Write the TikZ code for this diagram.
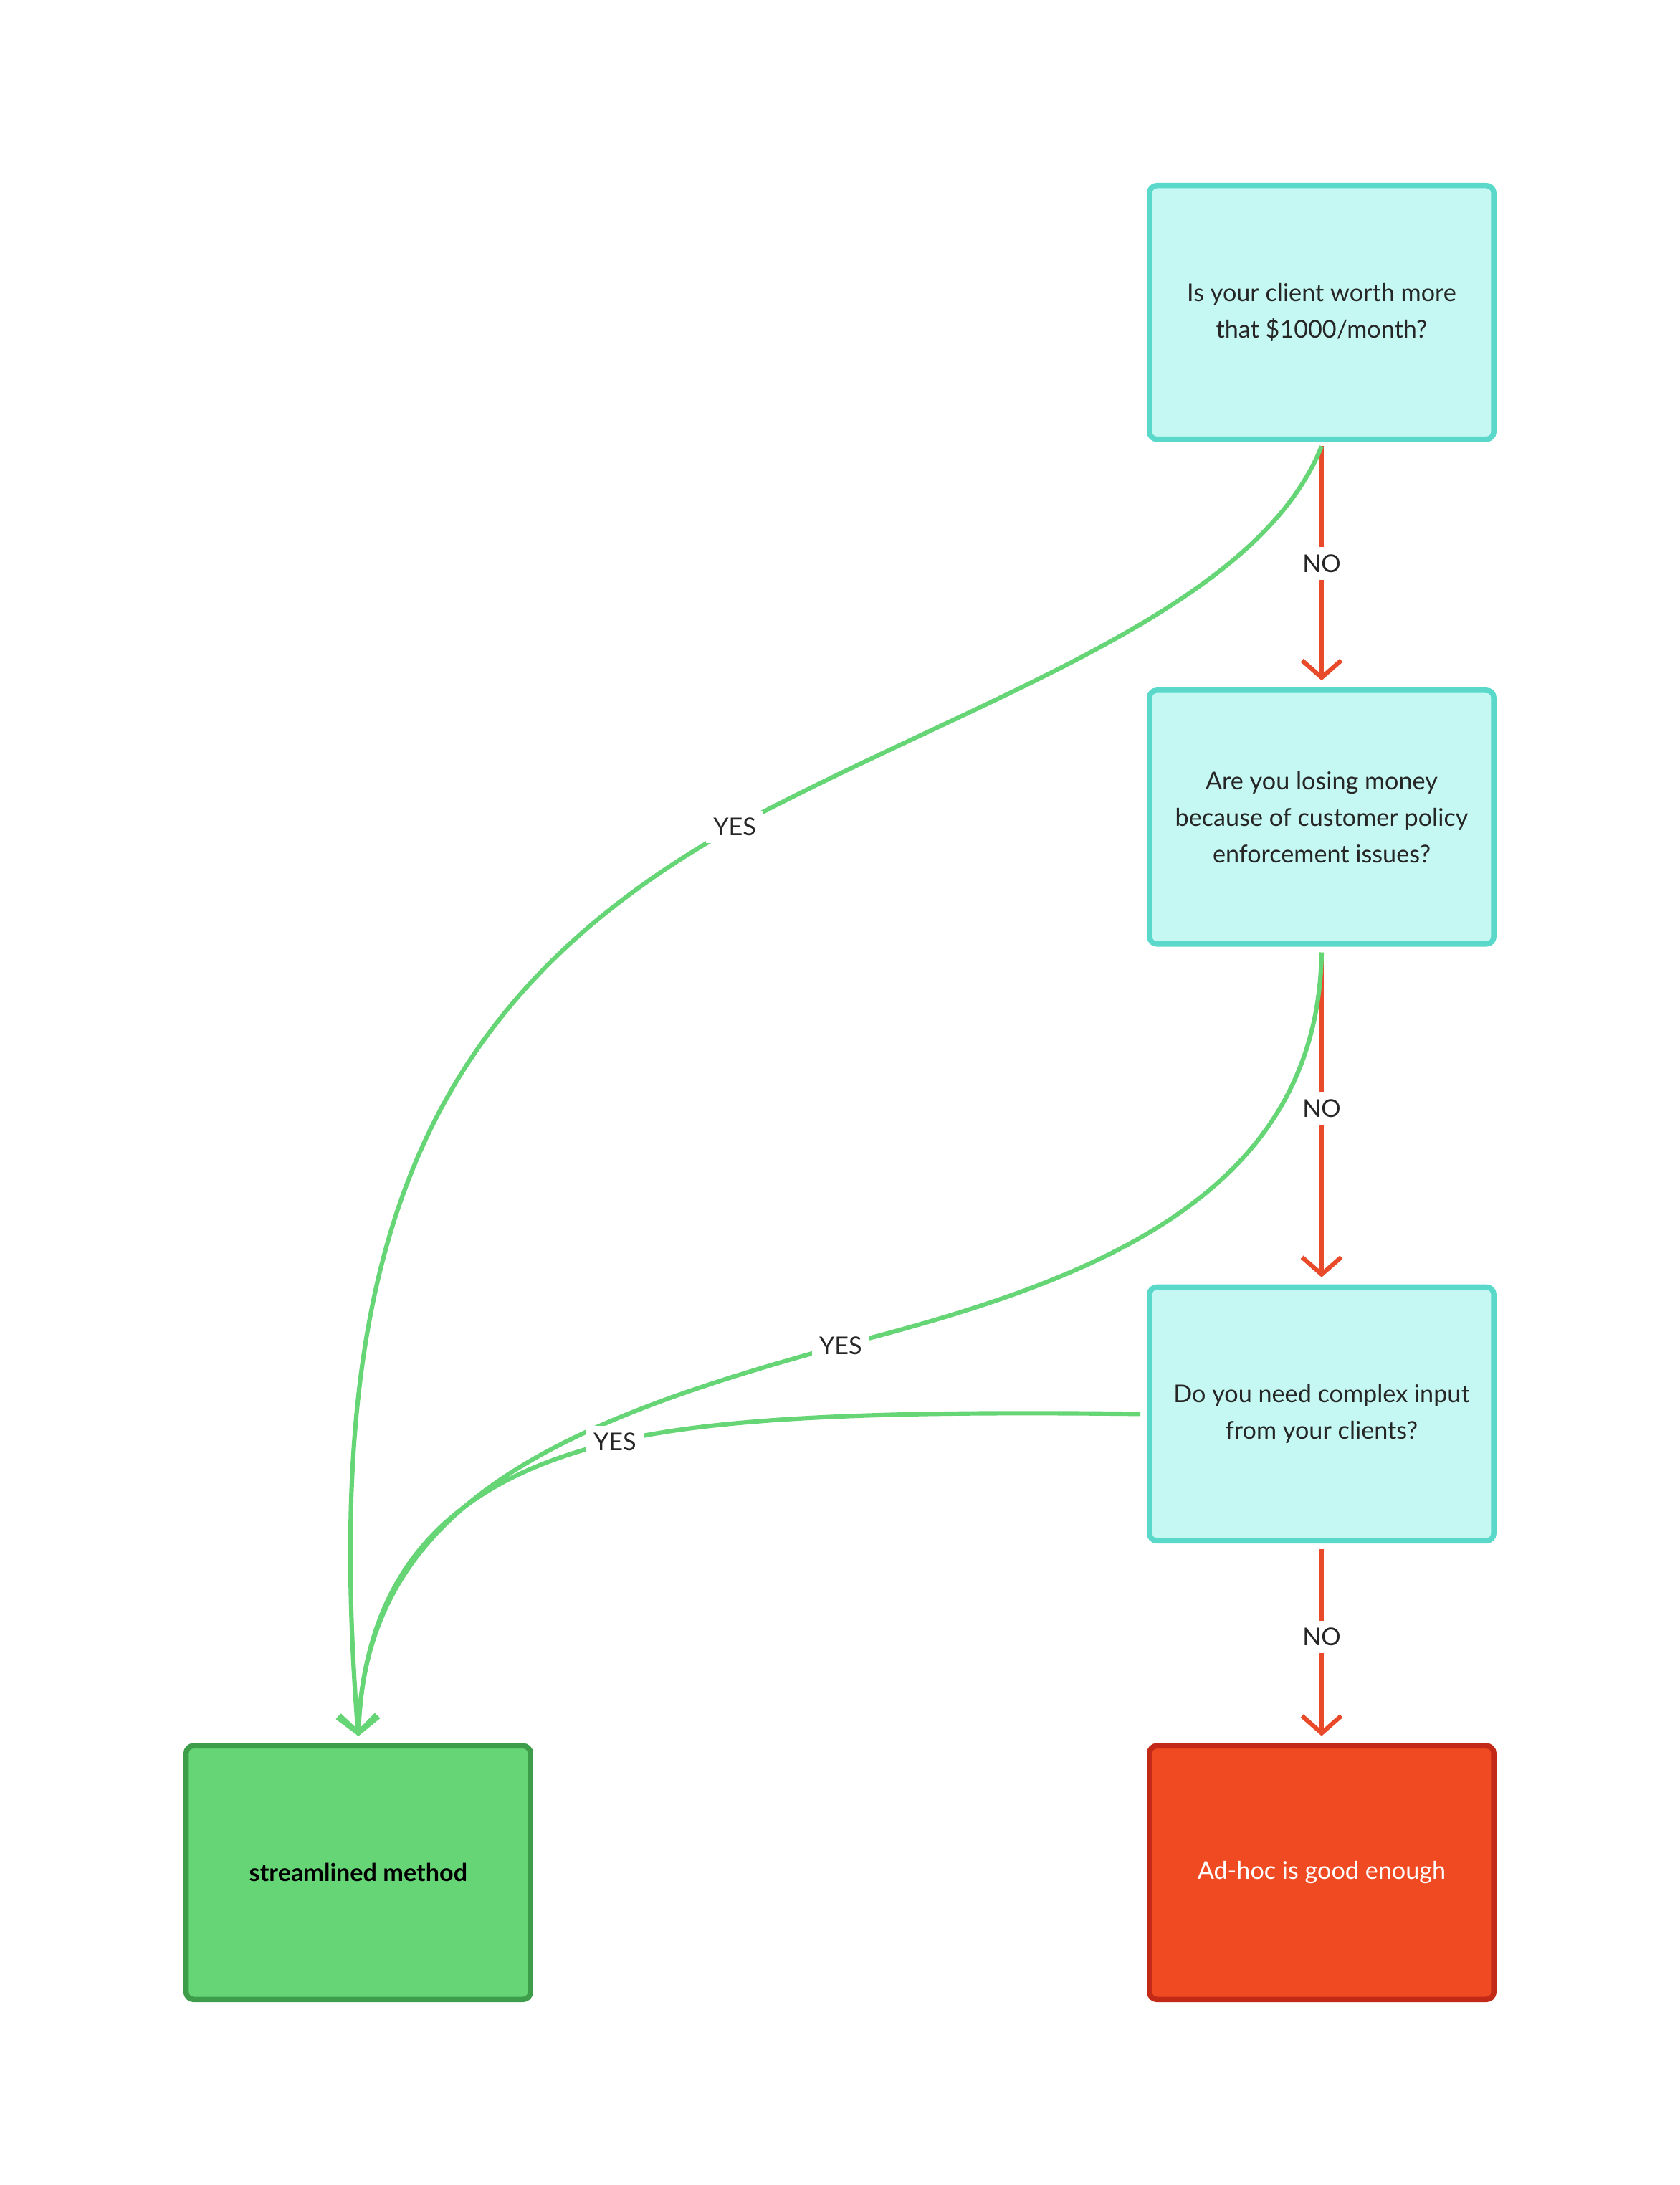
\documentclass[tikz,border=0pt]{standalone}
\usepackage{fontspec}
\setmainfont{Lato}
\usetikzlibrary{arrows.meta}
\definecolor{qfill}{HTML}{C5F8F2}
\definecolor{qline}{HTML}{5AD9CB}
\definecolor{yfill}{HTML}{66D575}
\definecolor{yline}{HTML}{3E9D4A}
\definecolor{nfill}{HTML}{F04A23}
\definecolor{nline}{HTML}{C22A17}
\definecolor{narrow}{HTML}{E84A2A}
\tikzset{
  box/.style={draw,line width=2.2pt,rounded corners=3pt,minimum width=4.94cm,minimum height=3.64cm,align=center,font=\fontsize{10}{15}\selectfont},
  qbox/.style={box,draw=qline,fill=qfill,text=black!85},
  no/.style={narrow,line width=1.8pt,-{Straight Barb[length=7pt,width=16pt]}},
  yes/.style={yfill,line width=1.8pt,-{Straight Barb[length=7pt,width=16pt]}},
  lab/.style={fill=white,inner sep=3pt,text=black!85,font=\fontsize{10}{12}\selectfont}
}
\begin{document}
\begin{tikzpicture}[x=0.02cm,y=-0.02cm]
\useasboundingbox (0,0) rectangle (1205,1567);
\node[qbox](q1) at (948,224) {Is your client worth more\\that \$1000/month?};
\node[qbox](q2) at (948,586) {Are you losing money\\because of customer policy\\enforcement issues?};
\node[qbox](q3) at (948,1014) {Do you need complex input\\from your clients?};
\node[box,draw=yline,fill=yfill](ys) at (257,1343) {\textbf{streamlined method}};
\node[box,draw=nline,fill=nfill,text=white](na) at (948,1343) {Ad-hoc is good enough};
%
\coordinate (q1b) at (948,320);
\coordinate (q2b) at (948,683);
\coordinate (q3l) at (818,1014);
\coordinate (yst) at (257,1245);
%
\draw[no] (q1b) -- node[lab]{NO} (948,488);
\draw[no] (q2b) -- node[lab,pos=0.48]{NO} (948,916);
\draw[no] (948,1111) -- node[lab,pos=0.47]{NO} (948,1245);
%
\draw[yes] (q1b) .. controls (900,440) and (700,500) .. (527,593) node[lab]{YES}
  .. controls (300,720) and (230,900) .. (yst);
\draw[yes] (q2b) .. controls (945,860) and (780,920) .. (603,965) node[lab]{YES}
  .. controls (400,1020) and (262,1080) .. (yst);
\draw[yes] (q3l) .. controls (650,1012) and (520,1015) .. (441,1034) node[lab]{YES}
  .. controls (330,1060) and (262,1120) .. (yst);
\end{tikzpicture}
\end{document}
